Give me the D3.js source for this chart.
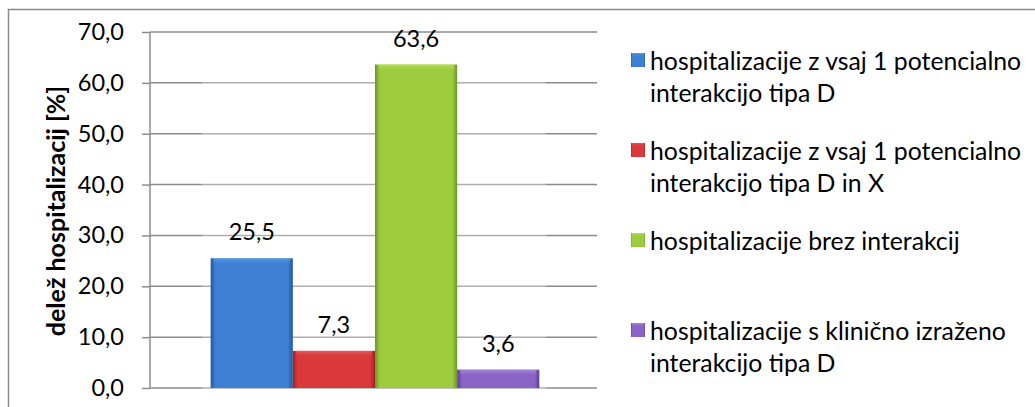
<!DOCTYPE html>
<html><head><meta charset="utf-8">
<script src="https://cdn.jsdelivr.net/npm/d3@7"></script>
<style>
html,body{margin:0;padding:0;background:#fff;}
svg{display:block;}
text{font-family:Lato, "Open Sans", sans-serif;fill:#000;}
</style></head>
<body>
<svg id="c" width="1035" height="407"></svg>
<script>
const seriesNames = [
  ["hospitalizacije z vsaj 1 potencialno", "interakcijo tipa D"],
  ["hospitalizacije z vsaj 1 potencialno", "interakcijo tipa D in X"],
  ["hospitalizacije brez interakcij"],
  ["hospitalizacije s klinično izraženo", "interakcijo tipa D"]
];
const values = [25.5, 7.3, 63.6, 3.6];
const yTicks = [0, 10, 20, 30, 40, 50, 60, 70];
const yTitle = "delež hospitalizacij [%]";
const colors = [
  {mid:"#3d7fd3", light:"#5a9be6", dark:"#24579c"},
  {mid:"#d9393b", light:"#ea5a5a", dark:"#9e2022"},
  {mid:"#9dcb3e", light:"#b6e05a", dark:"#6e9527"},
  {mid:"#8a63c6", light:"#a987df", dark:"#5b3f8c"}
];

const svg = d3.select("#c");
const plot = {left:150, right:597, top:32, bottom:388};
const y = d3.scaleLinear().domain([0,70]).range([plot.bottom, plot.top]);
const xCat = d3.scaleBand().domain(["all"]).range([plot.left+1.5, plot.right+1.5]).paddingOuter(0.18).paddingInner(0);
const x = d3.scaleBand().domain(d3.range(values.length)).range([xCat("all"), xCat("all")+xCat.bandwidth()]).padding(0);

// gradients
const defs = svg.append("defs");
colors.forEach((c,i)=>{
  const g = defs.append("linearGradient").attr("id","g"+i).attr("x1","0").attr("x2","1").attr("y1","0").attr("y2","0");
  g.append("stop").attr("offset","0").attr("stop-color",c.dark);
  g.append("stop").attr("offset","0.06").attr("stop-color",c.mid);
  g.append("stop").attr("offset","0.5").attr("stop-color",c.mid);
  g.append("stop").attr("offset","0.94").attr("stop-color",c.mid);
  g.append("stop").attr("offset","1").attr("stop-color",c.dark);
  const t = defs.append("linearGradient").attr("id","t"+i).attr("x1","0").attr("x2","0").attr("y1","0").attr("y2","1");
  t.append("stop").attr("offset","0").attr("stop-color",c.light).attr("stop-opacity",1);
  t.append("stop").attr("offset","1").attr("stop-color",c.mid).attr("stop-opacity",0);
});

// outer border
svg.append("rect").attr("x",8.5).attr("y",9.5).attr("width",1200).attr("height",600)
  .attr("fill","none").attr("stroke","#8a8a8a").attr("stroke-width",1.5);

// gridlines
svg.append("g").selectAll("line").data(yTicks).join("line")
  .attr("x1",plot.left).attr("x2",plot.right)
  .attr("y1",d=>y(d)).attr("y2",d=>y(d))
  .attr("stroke","#8c8c8c").attr("stroke-width",1.5);

// faint pale region behind bars
svg.append("rect").attr("x",202).attr("y",61).attr("width",344).attr("height",338)
  .attr("fill","#ffffff").attr("opacity",0.3);

// y axis
const axis = d3.axisLeft(y).tickValues(yTicks).tickSize(8).tickPadding(18)
  .tickFormat(d=>d3.format(".1f")(d).replace(".",","));
const ag = svg.append("g").attr("transform",`translate(${plot.left},0)`).call(axis);
ag.select(".domain").attr("stroke","#8c8c8c").attr("stroke-width",1.5).attr("d",`M0,${plot.top}V${plot.bottom}`);
ag.selectAll(".tick line").attr("stroke","#8c8c8c").attr("stroke-width",1.5);
ag.selectAll(".tick text").attr("font-size",23.5).attr("font-family","Lato").attr("fill","#000");

// bars
const bars = svg.append("g");
values.forEach((v,i)=>{
  const bx = x(i), bw = x.bandwidth(), by = y(v), bh = y(0)-y(v);
  bars.append("rect").attr("x",bx).attr("y",by).attr("width",bw).attr("height",bh).attr("fill",`url(#g${i})`);
  bars.append("rect").attr("x",bx+3).attr("y",by).attr("width",bw-6).attr("height",Math.min(7,bh)).attr("fill",`url(#t${i})`);
});

// data labels
svg.append("g").selectAll("text").data(values).join("text")
  .attr("x",(d,i)=>x(i)+x.bandwidth()/2)
  .attr("y",d=>y(d)-27)
  .attr("text-anchor","middle").attr("dominant-baseline","central")
  .attr("font-size",23.5)
  .text(d=>d3.format(".1f")(d).replace(".",","));

// y title
svg.append("text").attr("transform","translate(55,211) rotate(-90)")
  .attr("text-anchor","middle").attr("dominant-baseline","central")
  .attr("font-size",25).attr("font-weight","bold").text(yTitle);

// legend
const firstLine = [60,150,240,330];
const lg = svg.append("g");
seriesNames.forEach((lines,i)=>{
  const cy = firstLine[i];
  lg.append("rect").attr("x",631).attr("y",cy-7).attr("width",14).attr("height",14).attr("fill",`url(#g${i})`);
  lg.append("rect").attr("x",632).attr("y",cy-7).attr("width",12).attr("height",4).attr("fill",`url(#t${i})`);
  lines.forEach((t,j)=>{
    lg.append("text").attr("x",650).attr("y",cy+j*32).attr("dominant-baseline","central")
      .attr("font-size",24.8).text(t);
  });
});
</script>
</body></html>
